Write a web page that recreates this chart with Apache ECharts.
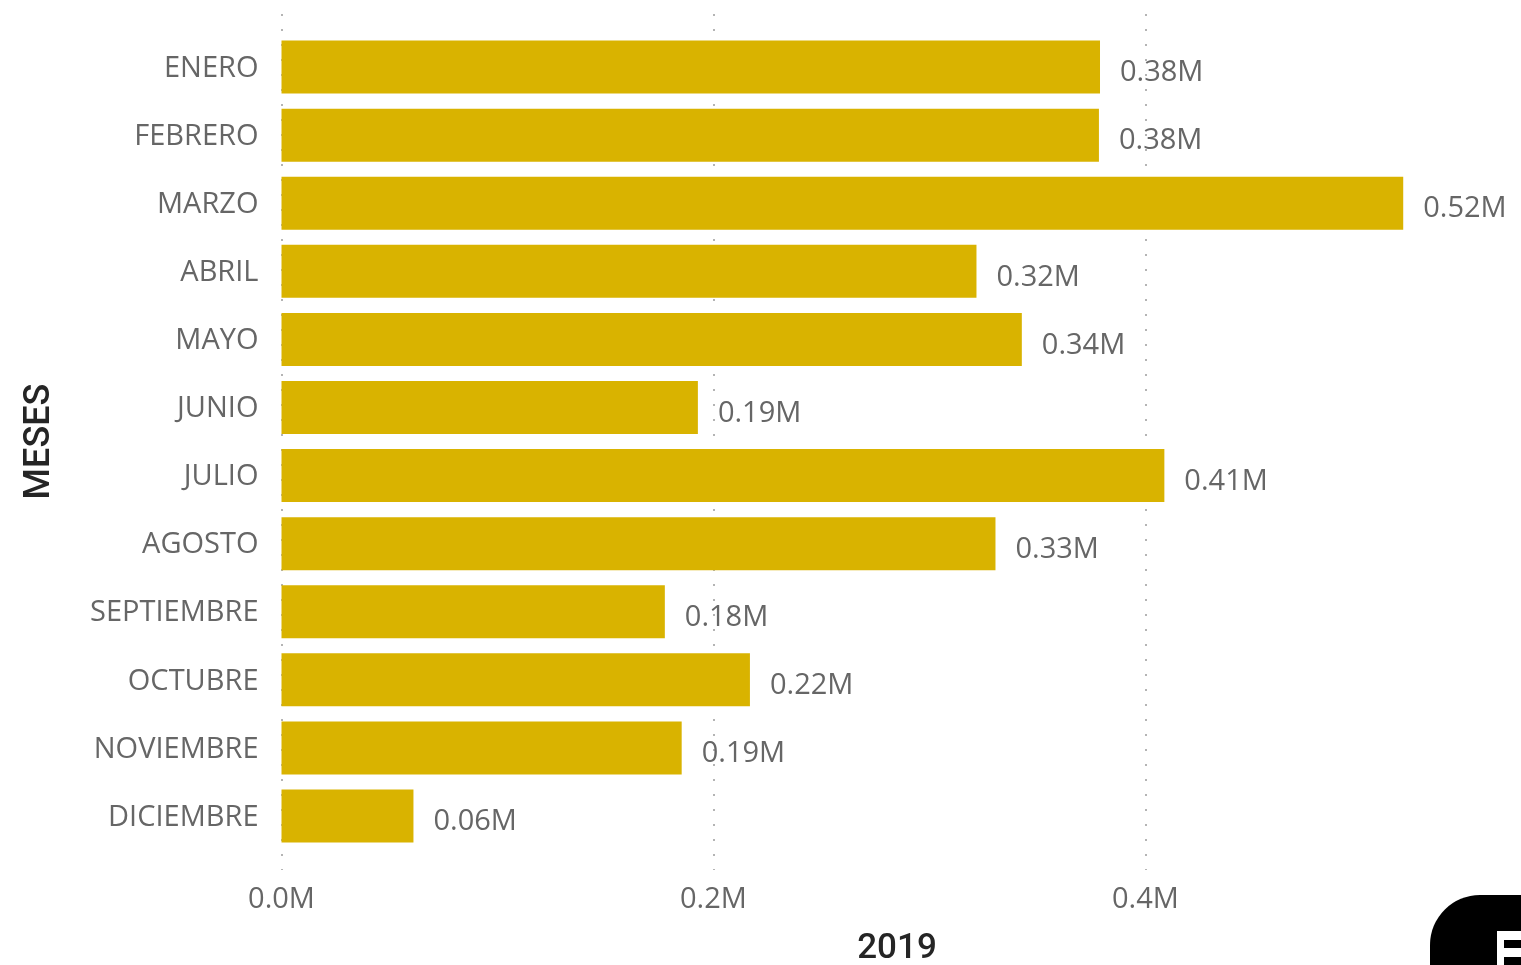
<!DOCTYPE html>
<html>
<head>
<meta charset="utf-8">
<title>Meses 2019</title>
<style>
html, body { margin: 0; padding: 0; background: #fff; overflow: hidden; }
#chart { width: 1521px; height: 965px; }
</style>
<script src="https://cdn.jsdelivr.net/npm/echarts@6/dist/echarts.min.js"></script>
</head>
<body>
<div id="chart"></div>
<script>
const months = ['ENERO', 'FEBRERO', 'MARZO', 'ABRIL', 'MAYO', 'JUNIO', 'JULIO', 'AGOSTO', 'SEPTIEMBRE', 'OCTUBRE', 'NOVIEMBRE', 'DICIEMBRE'];
// Monthly totals in millions; labels show them rounded to two decimals.
const totals2019 = [0.379, 0.3785, 0.5194, 0.3218, 0.3428, 0.1928, 0.4088, 0.3306, 0.1775, 0.2169, 0.1853, 0.0611];
const xTicksMillions = { min: 0, max: 0.57, step: 0.2 };
const xAxisTitle = '2019';
const yAxisTitle = 'MESES';

const fontFace = '"Open Sans", "Noto Sans", sans-serif';
const millions = v => v.toFixed(2) + 'M';

const chart = echarts.init(document.getElementById('chart'), null, { renderer: 'canvas' });
chart.setOption({
  backgroundColor: '#ffffff',
  animation: false,
  grid: [
    // Bars
    { left: 281.5, top: 33, width: 1231, height: 817, outerBoundsMode: 'none' },
    // Dotted gridlines run a little past the bars at both ends
    { left: 281.5, top: 14, width: 1231, height: 856, outerBoundsMode: 'none' }
  ],
  xAxis: [
    {
      gridIndex: 0,
      type: 'value',
      min: xTicksMillions.min,
      max: xTicksMillions.max,
      interval: xTicksMillions.step,
      name: xAxisTitle,
      nameLocation: 'middle',
      nameGap: 82,
      nameTextStyle: { fontFamily: 'Roboto, sans-serif', fontSize: 35, color: '#252525', fontWeight: 500 },
      axisLine: { show: false },
      axisTick: { show: false },
      splitLine: { show: false },
      axisLabel: {
        margin: 35,
        showMaxLabel: false,
        fontFamily: fontFace,
        fontSize: 29,
        color: '#666666',
        formatter: v => v.toFixed(1) + 'M'
      }
    },
    {
      gridIndex: 1,
      type: 'value',
      min: xTicksMillions.min,
      max: xTicksMillions.max,
      interval: xTicksMillions.step,
      axisLine: { show: false },
      axisTick: { show: false },
      axisLabel: { show: false },
      splitLine: {
        show: true,
        showMaxLine: false,
        lineStyle: { color: '#b4b4b4', width: 2, type: [2, 13] }
      }
    }
  ],
  yAxis: [
    {
      gridIndex: 0,
      type: 'category',
      inverse: true,
      data: months,
      name: yAxisTitle,
      nameLocation: 'middle',
      nameGap: 224,
      nameTextStyle: { fontFamily: 'Roboto, sans-serif', fontSize: 36, color: '#252525', fontWeight: 500 },
      axisLine: { show: false },
      axisTick: { show: false },
      axisLabel: {
        margin: 23,
        formatter: name => '{m|' + name + '}',
        rich: { m: { padding: [3, 0, 0, 0], fontFamily: fontFace, fontSize: 29, color: '#666666' } }
      }
    },
    { gridIndex: 1, type: 'value', show: false }
  ],
  series: [
    {
      type: 'bar',
      xAxisIndex: 1,
      yAxisIndex: 1,
      data: [],
      silent: true,
      z: 1
    },
    {
      type: 'bar',
      xAxisIndex: 0,
      yAxisIndex: 0,
      data: totals2019,
      barWidth: 53,
      z: 3,
      itemStyle: { color: '#d9b300' },
      label: {
        show: true,
        position: 'right',
        distance: 20,
        offset: [0, 6],
        fontFamily: fontFace,
        fontSize: 29,
        color: '#666666',
        formatter: p => millions(p.value)
      }
    }
  ],
  graphic: [
    // Corner badge
    { type: 'rect', z: 10, shape: { x: 1430, y: 895, width: 140, height: 120, r: 50 }, style: { fill: '#000000' } },
    { type: 'rect', z: 11, shape: { x: 1497, y: 931, width: 24, height: 34 }, style: { fill: '#ffffff' } },
    { type: 'rect', z: 12, shape: { x: 1504, y: 940, width: 17, height: 8 }, style: { fill: '#000000' } },
    { type: 'rect', z: 12, shape: { x: 1504, y: 957, width: 17, height: 8 }, style: { fill: '#000000' } }
  ]
});
</script>
</body>
</html>
